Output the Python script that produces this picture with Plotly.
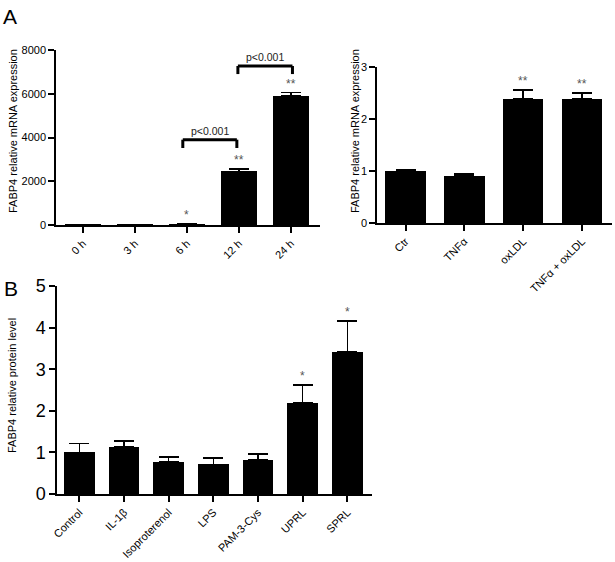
import plotly.graph_objects as go

# panel A left: FABP4 mRNA over time
hours = ["0 h", "3 h", "6 h", "12 h", "24 h"]
hours_val = [1, 2, 45, 2450, 5900]
hours_err = [0, 0, 5, 110, 150]
hours_star = ["", "", "*", "**", "**"]

# panel A right: treatments
treat = ["Ctr", "TNFα", "oxLDL", "TNFα + oxLDL"]
treat_val = [1.0, 0.9, 2.39, 2.39]
treat_err = [0.02, 0.04, 0.17, 0.11]
treat_star = ["", "", "**", "**"]

# panel B: protein level
conds = ["Control", "IL-1β", "Isoproterenol", "LPS", "PAM-3-Cys", "UPRL", "SPRL"]
conds_val = [1.0, 1.13, 0.77, 0.71, 0.82, 2.19, 3.41]
conds_err = [0.21, 0.14, 0.12, 0.16, 0.14, 0.43, 0.75]
conds_star = ["", "", "", "", "", "*", "*"]

FONT = "Arial, Liberation Sans, sans-serif"
W, H = 615, 562


def px_x(a, b):
    return [a / W, b / W]


def px_y(top, bottom):
    return [(H - bottom) / H, (H - top) / H]


fig = go.Figure()

panels = [
    (hours, hours_val, hours_err, hours_star, "x", "y"),
    (treat, treat_val, treat_err, treat_star, "x2", "y2"),
    (conds, conds_val, conds_err, conds_star, "x3", "y3"),
]

for cats, vals, errs, stars, xa, ya in panels:
    idx = list(range(len(cats)))
    fig.add_trace(go.Bar(
        x=idx, y=vals, width=0.69, xaxis=xa, yaxis=ya,
        marker=dict(color="black", line=dict(width=0)),
        error_y=dict(type="data", array=errs, arrayminus=[0] * len(errs), symmetric=False,
                     color="black", thickness=1.5, width=10),
        showlegend=False,
    ))
    for i, s in enumerate(stars):
        if s:
            fig.add_annotation(x=i, y=vals[i] + errs[i], xref=xa, yref=ya, text=s,
                               showarrow=False, yanchor="bottom", yshift=0,
                               font=dict(family=FONT, size=12, color="#555"))

axis_common = dict(showgrid=False, zeroline=False, showline=True, linecolor="black",
                   linewidth=1.5, ticks="outside", ticklen=6, tickwidth=1.5,
                   tickcolor="black", automargin=False,
                   tickfont=dict(family=FONT, size=11, color="black"))

fig.update_layout(
    width=W, height=H, margin=dict(l=0, r=0, t=0, b=0),
    plot_bgcolor="white", paper_bgcolor="white", bargap=0,
    xaxis=dict(axis_common, domain=px_x(56, 320), range=[-0.52, 4.56], anchor="y",
               tickmode="array", tickvals=list(range(len(hours))), ticktext=hours, tickangle=-45),
    yaxis=dict(axis_common, domain=px_y(50, 225), range=[0, 8000], dtick=2000, anchor="x"),
    xaxis2=dict(axis_common, domain=px_x(377, 612), range=[-0.485, 3.51], anchor="y2",
                tickmode="array", tickvals=list(range(len(treat))), ticktext=treat, tickangle=-45),
    yaxis2=dict(axis_common, domain=px_y(67, 223), range=[0, 3], dtick=1, anchor="x2"),
    xaxis3=dict(axis_common, domain=px_x(57, 372), range=[-0.5, 6.55], anchor="y3",
                tickmode="array", tickvals=list(range(len(conds))), ticktext=conds, tickangle=-45),
    yaxis3=dict(axis_common, domain=px_y(286, 494), range=[0, 5], dtick=1, anchor="x3",
                tickfont=dict(family=FONT, size=18, color="black")),
)

# significance brackets on panel A left
for x0, x1, ytop, ybot in [(1.92, 2.96, 3900, 3520), (2.98, 4.03, 7270, 6900)]:
    for xs, ys in [((x0, x1), (ytop, ytop)), ((x0, x0), (ytop, ybot)), ((x1, x1), (ytop, ybot))]:
        fig.add_shape(type="line", xref="x", yref="y", x0=xs[0], x1=xs[1], y0=ys[0], y1=ys[1],
                      line=dict(color="black", width=3))
    fig.add_annotation(x=(x0 + x1) / 2, y=ytop, xref="x", yref="y", text="p<0.001",
                       showarrow=False, yanchor="bottom", yshift=1,
                       font=dict(family=FONT, size=10.5, color="#222"))

# axis titles and panel letters
titles = [
    ("FABP4 relative mRNA expression", 13, 131, 11),
    ("FABP4 relative mRNA expression", 355, 131, 11),
    ("FABP4 relative protein level", 12, 386, 11),
]
for txt, x, y, size in titles:
    fig.add_annotation(x=x / W, y=(H - y) / H, xref="paper", yref="paper", text=txt,
                       textangle=-90, showarrow=False, xanchor="center", yanchor="middle",
                       font=dict(family=FONT, size=size, color="black"))

for letter, x, y in [("A", 10, 16), ("B", 11, 288)]:
    fig.add_annotation(x=x / W, y=(H - y) / H, xref="paper", yref="paper", text=letter,
                       showarrow=False, xanchor="center", yanchor="middle",
                       font=dict(family=FONT, size=21, color="black"))

# page has a default body margin; drop it so the figure sits at the window corner
fig.write_html("out.html", config={"displayModeBar": False},
               post_script="document.body.style.margin='0';document.body.style.overflow='hidden';")
